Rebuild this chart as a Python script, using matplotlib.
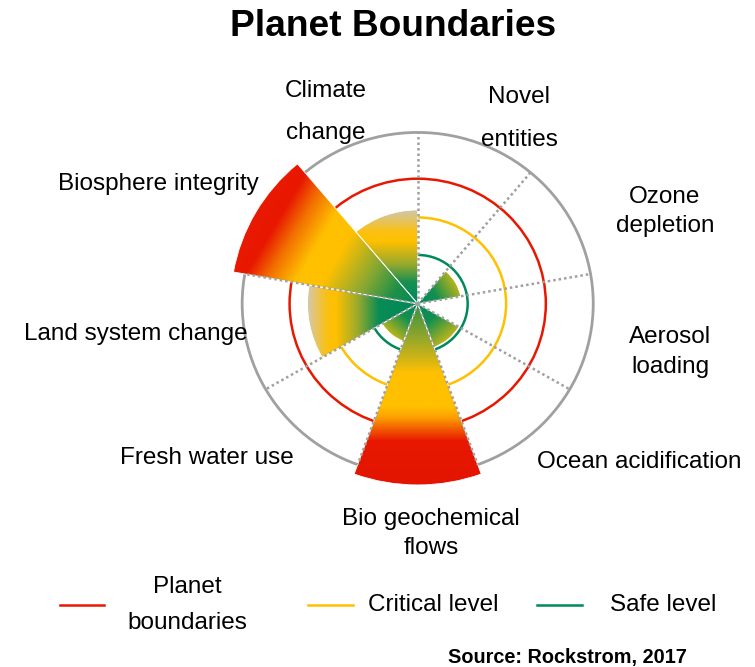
import numpy as np
import matplotlib
matplotlib.use("Agg")
import matplotlib.pyplot as plt
from matplotlib.patches import Wedge, Ellipse
from matplotlib.lines import Line2D
from matplotlib.colors import LinearSegmentedColormap

plt.rcParams['font.family'] = ['Liberation Sans', 'DejaVu Sans']

# ---------------- data ----------------
categories = ["Climate change", "Novel entities", "Ozone depletion", "Aerosol loading",
              "Ocean acidification", "Bio geochemical flows", "Fresh water use",
              "Land system change", "Biosphere integrity"]
# status of each boundary (planet boundary = 1.0)
values = [0.75, 0.0, 0.34, 0.0, 0.37, 1.45, 0.32, 0.86, 1.46]
safe_level = 0.39
critical_level = 0.69
planet_boundary = 1.0
outer_ring = 1.37

title = "Planet Boundaries"
source = "Source: Rockstrom, 2017"

# ---------------- style ----------------
W, H = 755, 667
CX, CY = 417.7, 303.7          # pixel centre of chart
SX = 1.025                     # slight horizontal stretch
UNIT = 125.0                   # pixels per unit radius

GREEN = '#00895a'
YELLOW = '#ffc000'
RED = '#e81800'
GRAY = '#a0a0a0'

small = [(0, GREEN), (0.45, '#13904f'), (1.0, '#bdb41a')]
grad_styles = {
    "Climate change": (90, [(0, GREEN), (0.22, '#178f51'), (0.42, '#9aaa2c'), (0.66, YELLOW),
                            (0.76, '#fcc010'), (1.0, '#ccc7b2')]),
    "Land system change": (180, [(0, GREEN), (0.36, '#0a8c55'), (0.55, '#9aaa2c'), (0.75, YELLOW),
                                 (0.83, '#fbc010'), (1.0, '#d6c8a4')]),
    "Biosphere integrity": (150, [(0, GREEN), (0.14, '#1d9048'), (0.3, '#8aa832'), (0.5, YELLOW),
                                  (0.63, YELLOW), (0.77, '#f27000'), (0.88, RED), (1.0, '#e81a00')]),
    "Bio geochemical flows": (270, [(0, '#2f933f'), (0.2, '#9aa82a'), (0.33, '#e0b810'), (0.38, YELLOW),
                                    (0.57, YELLOW), (0.63, '#fca000'), (0.69, '#f26000'), (0.76, RED),
                                    (1.0, '#e31500')]),
}

fig = plt.figure(figsize=(W / 100, H / 100), dpi=100)
ax = fig.add_axes([0, 0, 1, 1])
ax.set_axis_off()

# reference rings
for lvl, col, lw in [(outer_ring, GRAY, 2.0), (planet_boundary, RED, 1.8),
                     (critical_level, YELLOW, 1.8), (safe_level, GREEN, 1.8)]:
    d = 2 * lvl * UNIT
    ax.add_patch(Ellipse((0, 0), d, d, fill=False, edgecolor=col, lw=lw, zorder=1))

# wedges with gradient fills
n = len(categories)
step = 360 / n
start = 130
for i, (cat, v) in enumerate(zip(categories, values)):
    t2 = start - step * i
    t1 = t2 - step
    if v <= 0:
        continue
    R = v * UNIT
    wedge = Wedge((0, 0), R, t1, t2, facecolor='none', edgecolor='white', lw=0.6, zorder=3)
    ax.add_patch(wedge)
    if cat in grad_styles:
        ang, stops = grad_styles[cat]
    else:
        ang, stops = (t1 + t2) / 2, small
    cmap = LinearSegmentedColormap.from_list(cat, stops)
    g = np.linspace(-R, R, 400)
    xx, yy = np.meshgrid(g, g)
    a = np.deg2rad(ang)
    proj = xx * np.cos(a) + yy * np.sin(a)
    im = ax.imshow(proj, extent=[-R, R, -R, R], origin='lower', cmap=cmap, vmin=0, vmax=R,
                   interpolation='bilinear', zorder=2)
    im.set_clip_path(wedge)

# dotted sector dividers
for i in range(n):
    t = start - step * i
    if i == 0:
        continue
    a = np.deg2rad(t)
    r = outer_ring * UNIT
    ax.plot([0, r * np.cos(a)], [0, r * np.sin(a)], color=GRAY, lw=1.8,
            linestyle=(0, (1, 1.2)), zorder=4)

ax.set_aspect('auto')
ax.set_xlim(-CX / SX, (W - CX) / SX)
ax.set_ylim(-(H - CY), CY)


def ftext(x, y, s, **kw):
    fig.text(x / W, 1 - y / H, s, ha='center', va='center', **kw)


LFS = 17.5
label_pos = {
    "Climate change": [(326, 91, "Climate"), (326, 133, "change")],
    "Novel entities": [(519, 97, "Novel"), (519, 140, "entities")],
    "Ozone depletion": [(665, 197, "Ozone"), (665, 226, "depletion")],
    "Aerosol loading": [(670, 337, "Aerosol"), (670, 367, "loading")],
    "Ocean acidification": [(639, 462, "Ocean acidification")],
    "Bio geochemical flows": [(431, 519, "Bio geochemical"), (431, 548, "flows")],
    "Fresh water use": [(207, 458, "Fresh water use")],
    "Land system change": [(136, 334, "Land system change")],
    "Biosphere integrity": [(158, 184, "Biosphere integrity")],
}
for cat in categories:
    for x, y, s in label_pos[cat]:
        ftext(x, y, s, fontsize=LFS)

ftext(393, 26, title, fontsize=26.7, fontweight='bold')

# legend
for x1, x2, col in [(60, 104, RED), (308, 353, YELLOW), (537, 582, GREEN)]:
    fig.add_artist(Line2D([x1 / W, x2 / W], [1 - 605 / H, 1 - 605 / H], color=col, lw=1.8,
                          transform=fig.transFigure))
ftext(187, 587, "Planet", fontsize=LFS)
ftext(187, 623, "boundaries", fontsize=LFS)
ftext(433, 605, "Critical level", fontsize=LFS)
ftext(663, 605, "Safe level", fontsize=LFS)
ftext(567, 657, source, fontsize=14.3, fontweight='bold')

fig.savefig("out.png", dpi=100)
